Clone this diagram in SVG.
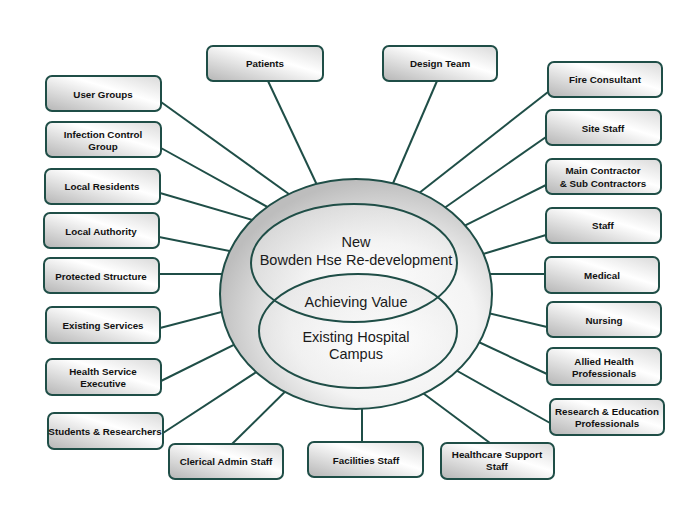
<svg xmlns="http://www.w3.org/2000/svg" width="700" height="518" viewBox="0 0 700 518">
<style>
.box{fill:url(#boxg);stroke:#1f4e47;stroke-width:2}
.lbl{font-family:"Liberation Sans",Arial,sans-serif;font-weight:bold;font-size:9.8px;fill:#111;text-anchor:middle}
.ctr{font-family:"Liberation Sans",Arial,sans-serif;font-size:14.5px;fill:#1a1a1a;text-anchor:middle}
.con line{stroke:#1f4e47;stroke-width:2}
.ring{stroke:#1f4e47;stroke-width:2}
</style>
<defs>
<linearGradient id="boxg" x1="0" y1="1" x2="1" y2="0">
<stop offset="0" stop-color="#b5b5b5"/>
<stop offset="0.6" stop-color="#ffffff"/>
<stop offset="1" stop-color="#d9d9d9"/>
</linearGradient>
<radialGradient id="outg" cx="0.6" cy="0.62" r="0.62">
<stop offset="0" stop-color="#ffffff"/>
<stop offset="0.55" stop-color="#f4f4f4"/>
<stop offset="1" stop-color="#bdbdbd"/>
</radialGradient>
<radialGradient id="ing" cx="0.6" cy="0.6" r="0.7">
<stop offset="0" stop-color="#ffffff"/>
<stop offset="1" stop-color="#e2e2e2"/>
</radialGradient>
</defs>
<rect width="700" height="518" fill="#ffffff"/>
<g id="connectors" class="con">
<line x1="161" y1="102" x2="300" y2="202"/>
<line x1="161" y1="148" x2="300" y2="225"/>
<line x1="160" y1="193" x2="290" y2="231"/>
<line x1="159" y1="237" x2="260" y2="257"/>
<line x1="159" y1="274" x2="260" y2="274"/>
<line x1="160" y1="328" x2="260" y2="302"/>
<line x1="161" y1="381" x2="270" y2="327"/>
<line x1="163" y1="433" x2="290" y2="350"/>
<line x1="232" y1="444" x2="310" y2="367"/>
<line x1="362" y1="442" x2="362" y2="380"/>
<line x1="490" y1="443" x2="400" y2="376"/>
<line x1="550" y1="423" x2="420" y2="350"/>
<line x1="547" y1="374" x2="440" y2="324"/>
<line x1="547" y1="327" x2="450" y2="304"/>
<line x1="545" y1="274" x2="450" y2="274"/>
<line x1="546" y1="235" x2="450" y2="264"/>
<line x1="546" y1="185" x2="430" y2="243"/>
<line x1="546" y1="137" x2="410" y2="232"/>
<line x1="548" y1="92" x2="400" y2="208"/>
<line x1="268" y1="81" x2="325" y2="202"/>
<line x1="437" y1="81" x2="385" y2="202"/>
</g>
<g id="center">
<ellipse cx="356" cy="294" rx="136" ry="115" fill="url(#outg)" class="ring"/>
<ellipse cx="354" cy="263" rx="103" ry="59" fill="url(#ing)" fill-opacity="0.6"/>
<ellipse cx="358" cy="331" rx="99" ry="57" fill="url(#ing)" fill-opacity="0.6"/>
<ellipse cx="354" cy="263" rx="103" ry="59" fill="none" class="ring"/>
<ellipse cx="358" cy="331" rx="99" ry="57" fill="none" class="ring"/>
<text class="ctr" x="356" y="247">New</text>
<text class="ctr" x="356" y="265">Bowden Hse Re-development</text>
<text class="ctr" x="356" y="307">Achieving Value</text>
<text class="ctr" x="356" y="342">Existing Hospital</text>
<text class="ctr" x="356" y="359">Campus</text>
</g>
<g id="user-groups"><rect class="box" x="46" y="76" width="115" height="35" rx="6"/><text class="lbl" x="103" y="98">User Groups</text></g>
<g id="infection-control"><rect class="box" x="46" y="122" width="115" height="35" rx="6"/><text class="lbl" x="103" y="137.5">Infection Control</text><text class="lbl" x="103" y="149.5">Group</text></g>
<g id="local-residents"><rect class="box" x="45" y="169" width="115" height="35" rx="6"/><text class="lbl" x="102" y="190">Local Residents</text></g>
<g id="local-authority"><rect class="box" x="44" y="213" width="115" height="35" rx="6"/><text class="lbl" x="101" y="235">Local Authority</text></g>
<g id="protected-structure"><rect class="box" x="44" y="258" width="115" height="35" rx="6"/><text class="lbl" x="101" y="279.5">Protected Structure</text></g>
<g id="existing-services"><rect class="box" x="46" y="307" width="114" height="36" rx="6"/><text class="lbl" x="103" y="328.5">Existing Services</text></g>
<g id="hse"><rect class="box" x="46" y="359" width="115" height="36" rx="6"/><text class="lbl" x="103" y="375">Health Service</text><text class="lbl" x="103" y="387">Executive</text></g>
<g id="students"><rect class="box" x="48" y="413" width="115" height="36" rx="6"/><text class="lbl" x="105" y="435">Students &amp; Researchers</text></g>
<g id="clerical"><rect class="box" x="169" y="444" width="114" height="35" rx="6"/><text class="lbl" x="226" y="465">Clerical Admin Staff</text></g>
<g id="facilities"><rect class="box" x="308" y="442" width="115" height="35" rx="6"/><text class="lbl" x="366" y="463.5">Facilities Staff</text></g>
<g id="healthcare-support"><rect class="box" x="441" y="443" width="113" height="36" rx="6"/><text class="lbl" x="497" y="458">Healthcare Support</text><text class="lbl" x="497" y="470">Staff</text></g>
<g id="patients"><rect class="box" x="207" y="46" width="116" height="35" rx="6"/><text class="lbl" x="265" y="67">Patients</text></g>
<g id="design-team"><rect class="box" x="383" y="46" width="114" height="35" rx="6"/><text class="lbl" x="440" y="67">Design Team</text></g>
<g id="fire-consultant"><rect class="box" x="548" y="62" width="114" height="35" rx="6"/><text class="lbl" x="605" y="82.5">Fire Consultant</text></g>
<g id="site-staff"><rect class="box" x="546" y="110" width="115" height="35" rx="6"/><text class="lbl" x="603" y="131.5">Site Staff</text></g>
<g id="main-contractor"><rect class="box" x="546" y="159" width="115" height="35" rx="6"/><text class="lbl" x="603" y="173.5">Main Contractor</text><text class="lbl" x="603" y="186.5">&amp; Sub Contractors</text></g>
<g id="staff"><rect class="box" x="546" y="208" width="115" height="35" rx="6"/><text class="lbl" x="603" y="229">Staff</text></g>
<g id="medical"><rect class="box" x="545" y="257" width="114" height="36" rx="6"/><text class="lbl" x="602" y="278.5">Medical</text></g>
<g id="nursing"><rect class="box" x="547" y="302" width="114" height="35" rx="6"/><text class="lbl" x="604" y="323.5">Nursing</text></g>
<g id="allied-health"><rect class="box" x="547" y="348" width="114" height="37" rx="6"/><text class="lbl" x="604" y="364.5">Allied Health</text><text class="lbl" x="604" y="376.5">Professionals</text></g>
<g id="research-education"><rect class="box" x="550" y="399" width="114" height="36" rx="6"/><text class="lbl" x="607" y="415">Research &amp; Education</text><text class="lbl" x="607" y="427">Professionals</text></g>
</svg>
